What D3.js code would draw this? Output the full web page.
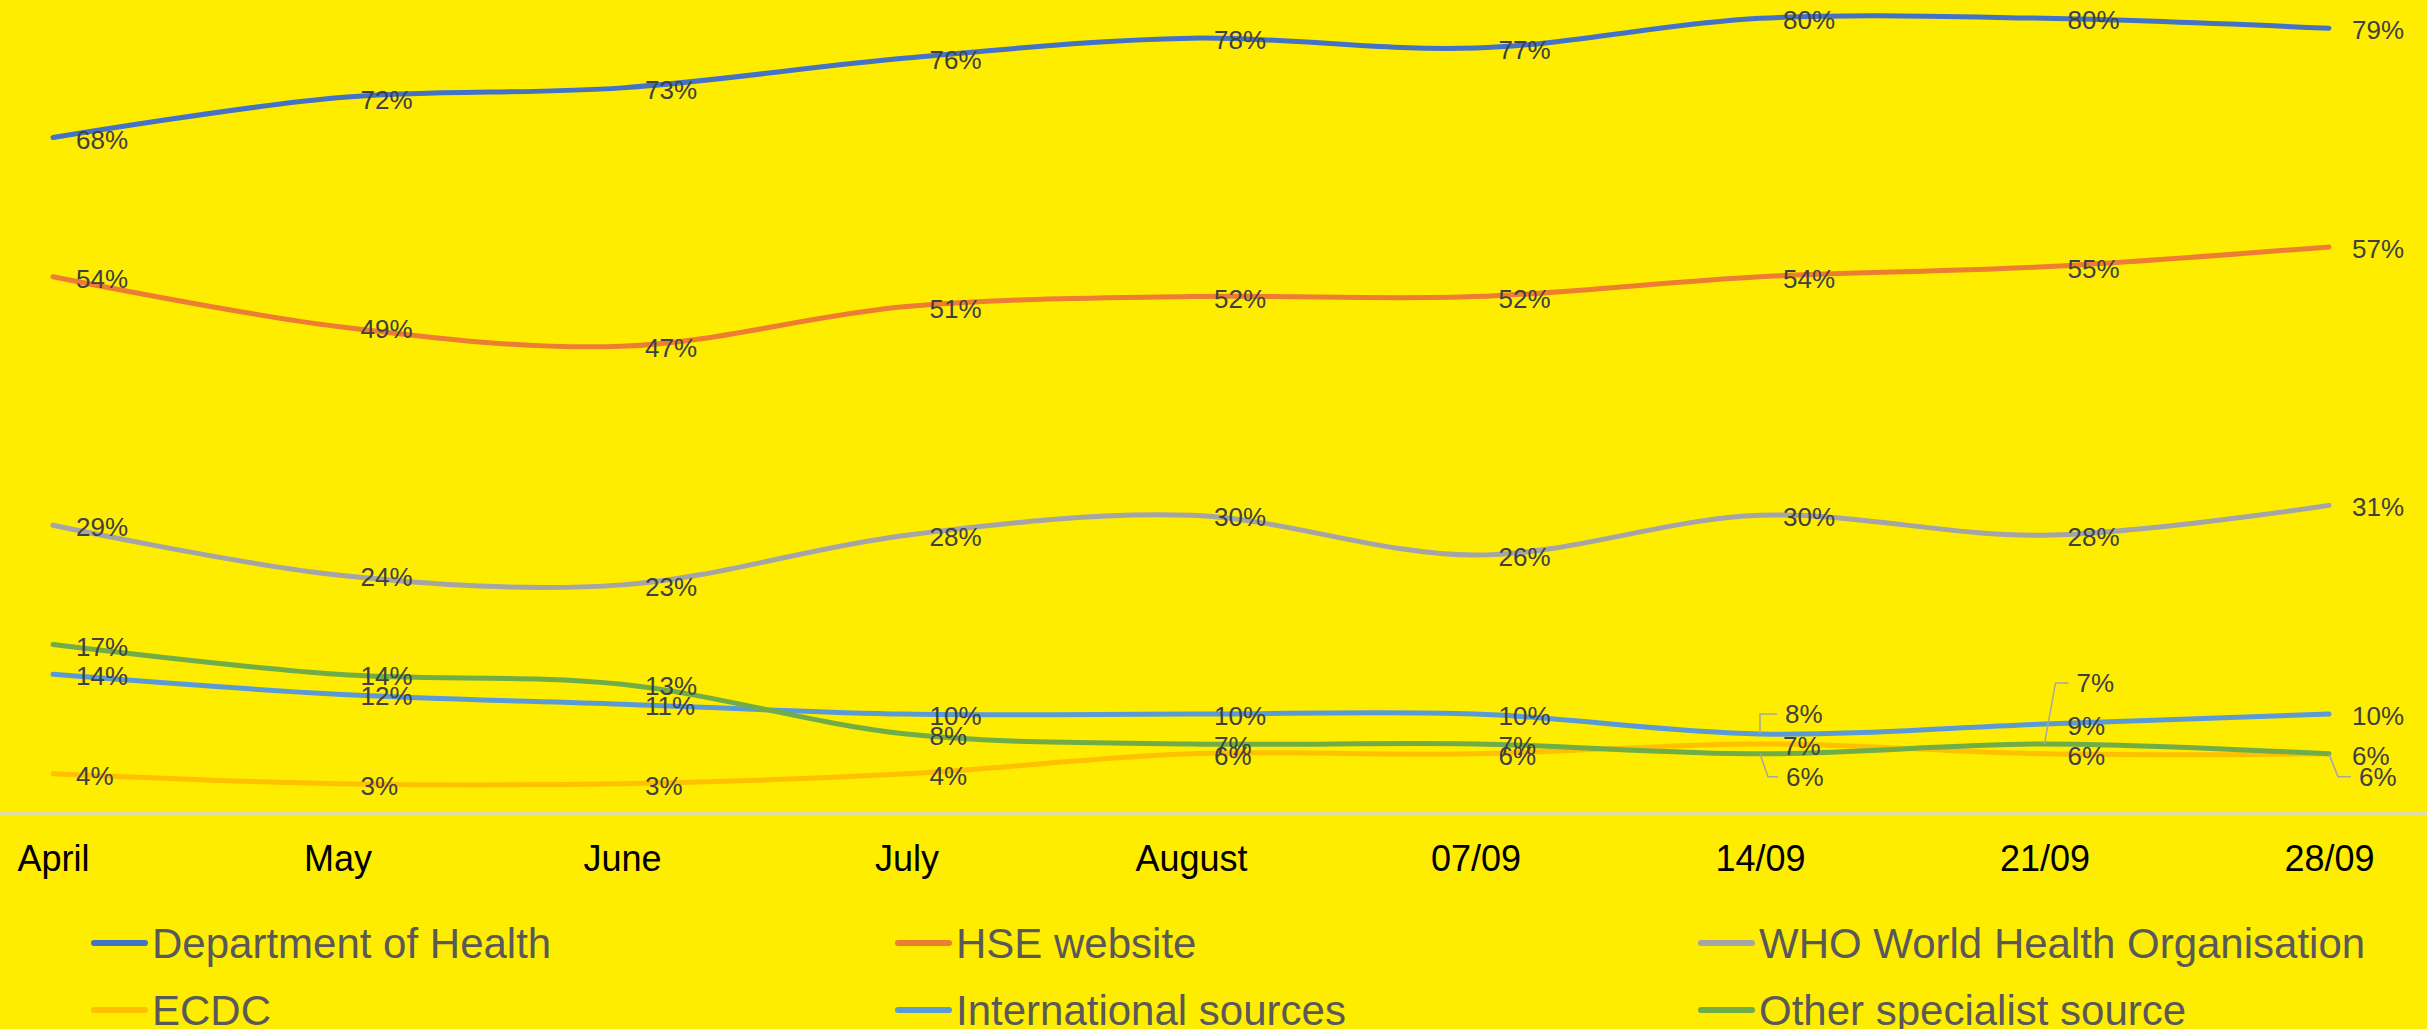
<!DOCTYPE html>
<html>
<head>
<meta charset="utf-8">
<script src="https://cdn.jsdelivr.net/npm/d3@7"></script>
<style>
  html, body { margin: 0; padding: 0; background: #FFED00; }
  svg { display: block; }
  text { font-family: "Liberation Sans", Arial, sans-serif; }
</style>
</head>
<body>
<svg id="chart" width="2427" height="1029"></svg>
<script>
// ---- data ----
const categories = ["April", "May", "June", "July", "August", "07/09", "14/09", "21/09", "28/09"];
const seriesNames = ["Department of Health", "HSE website", "WHO World Health Organisation",
                     "ECDC", "International sources", "Other specialist source"];
const deptHealth   = [68, 72, 73, 76, 78, 77, 80, 80, 79];
const hseWebsite   = [54, 49, 47, 51, 52, 52, 54, 55, 57];
const who          = [29, 24, 23, 28, 30, 26, 30, 28, 31];
const ecdc         = [4, 3, 3, 4, 6, 6, 7, 6, 6];
const international= [14, 12, 11, 10, 10, 10, 8, 9, 10];
const otherSpecial = [17, 14, 13, 8, 7, 7, 6, 7, 6];
const seriesColors = ["#4472C4", "#ED7D31", "#A5A5A5", "#FFC000", "#5B9BD5", "#70AD47"];

// label nudges (layout only): series index, category index, label offset and leader elbow
const labelNudges = [
  { s: 4, i: 6, dx: 25, dy: -20, elbow: 0 },
  { s: 5, i: 6, dx: 26, dy: 23, elbow: 8 },
  { s: 5, i: 7, dx: 32, dy: -61, elbow: 11 },
  { s: 3, i: 8, dx: 30, dy: 23, elbow: 9 }
];

const seriesValues = [deptHealth, hseWebsite, who, ecdc, international, otherSpecial];

// ---- layout ----
const svg = d3.select("#chart");
const W = 2427, H = 1029;
svg.append("rect").attr("width", W).attr("height", H).attr("fill", "#FFED00");

const x = d3.scalePoint().domain(categories).range([53, 2329]);
const y = d3.scaleLinear().domain([0, 80]).range([813.5, 18.3]);

// axis line
const axisG = svg.append("g").attr("transform", `translate(0,${y(0)})`);
axisG.append("line").attr("x1", 0).attr("x2", W).attr("y1", 0).attr("y2", 0)
  .attr("stroke", "#D9D9D9").attr("stroke-width", 2.5);

// category labels via d3 axis
const xAxis = d3.axisBottom(x).tickSize(0).tickPadding(0);
const xg = svg.append("g").attr("transform", `translate(0,${y(0)})`).call(xAxis);
xg.select(".domain").remove();
xg.selectAll("text")
  .attr("font-family", "Liberation Sans, Arial, sans-serif")
  .attr("font-size", 36)
  .attr("fill", "#000")
  .attr("dy", null)
  .attr("y", 57);

// lines
const line = d3.line()
  .x((d, i) => x(categories[i]))
  .y(d => y(d))
  .curve(d3.curveCatmullRom.alpha(0.5));

const linesG = svg.append("g");
seriesValues.forEach((vals, s) => {
  linesG.append("path")
    .attr("d", line(vals))
    .attr("fill", "none")
    .attr("stroke", seriesColors[s])
    .attr("stroke-width", 5)
    .attr("stroke-linecap", "round")
    .attr("stroke-linejoin", "round");
});

// data labels
const labG = svg.append("g");
seriesValues.forEach((vals, s) => {
  vals.forEach((v, i) => {
    const px = x(categories[i]), py = y(v);
    const nudge = labelNudges.find(n => n.s === s && n.i === i);
    let lx = px + 23, ly = py + 2;
    if (nudge) {
      lx = px + nudge.dx; ly = py + nudge.dy;
      labG.append("path")
        .attr("d", `M${px},${py}L${px + nudge.elbow},${ly}L${lx - 8},${ly}`)
        .attr("fill", "none").attr("stroke", "#A6A6A6").attr("stroke-width", 1.5);
    }
    labG.append("text")
      .attr("x", lx).attr("y", ly).attr("dy", "0.35em")
      .attr("font-size", 26).attr("fill", "#404040")
      .text(v + "%");
  });
});

// legend
const legendCols = [91, 895, 1698];
const legendRows = [943, 1010];
const legG = svg.append("g");
seriesNames.forEach((name, s) => {
  const cx = legendCols[s % 3], cy = legendRows[Math.floor(s / 3)];
  legG.append("line").attr("x1", cx + 3).attr("x2", cx + 54)
    .attr("y1", cy).attr("y2", cy)
    .attr("stroke", seriesColors[s]).attr("stroke-width", 6).attr("stroke-linecap", "round");
  legG.append("text").attr("x", cx + 61).attr("y", cy).attr("dy", "0.35em")
    .attr("font-size", 42).attr("fill", "#595959").text(name);
});
</script>
</body>
</html>
